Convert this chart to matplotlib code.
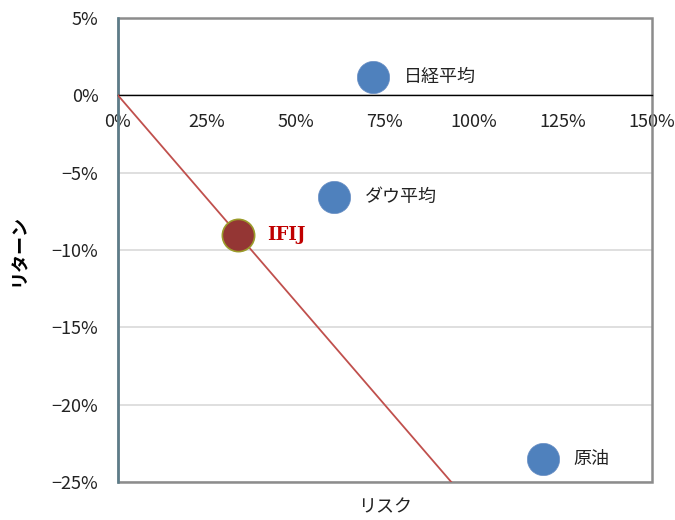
import numpy as np
import matplotlib.pyplot as plt
from matplotlib.patches import Rectangle
from matplotlib.ticker import FuncFormatter, MultipleLocator

plt.rcParams['font.family'] = ['Noto Sans CJK JP', 'DejaVu Sans']

# データ (リスク, リターン) in %
names = ['日経平均', 'ダウ平均', '原油']
risk = [71.6, 60.7, 119.4]
ret = [1.2, -6.6, -23.5]

ifij_name = 'IFIJ'
ifij_risk = 33.7
ifij_ret = -9.0

xticks = [0, 25, 50, 75, 100, 125, 150]
yticks = [5, 0, -5, -10, -15, -20, -25]

fig = plt.figure(figsize=(6.75, 5.2), dpi=100)
ax = fig.add_axes([0.1748, 0.0731, 0.7911, 0.8923])

ax.set_xlim(0, 150)
ax.set_ylim(-25, 5)
ax.set_xticks(xticks)
ax.set_yticks(yticks)
pct = FuncFormatter(lambda v, p: '{:d}%'.format(int(round(v))).replace('-', '\u2212'))
ax.xaxis.set_major_formatter(pct)
ax.yaxis.set_major_formatter(pct)

# grid
ax.grid(axis='y', color='#d9d9d9', lw=1.2, zorder=0)
ax.set_axisbelow(True)

# frame
for s in ['top', 'right']:
    ax.spines[s].set_visible(False)
ax.add_patch(Rectangle((0, 0), 1, 1, transform=ax.transAxes, fill=False,
                       edgecolor='#8c8c8c', lw=1.8, zorder=1, clip_on=False))
ax.spines['left'].set_color('#5c7d8a')
ax.spines['left'].set_linewidth(1.8)
ax.spines['left'].set_zorder(2)
ax.spines['bottom'].set_position(('data', 0))
ax.spines['bottom'].set_color('black')
ax.spines['bottom'].set_linewidth(1.0)

ax.tick_params(axis='both', length=0, labelsize=13, colors='#222222')
ax.tick_params(axis='x', pad=13)
ax.tick_params(axis='y', pad=14)

# 回帰線 (原点とIFIJを通る)
slope = ifij_ret / ifij_risk
xl = np.array([0, 150])
ax.plot(xl, slope * xl, color='#c0504d', lw=1.3, zorder=3)

# points
ax.scatter(risk, ret, s=540, color='#4f81bd', edgecolor='#6a8fc4', lw=0.5, zorder=4, clip_on=False)
ax.scatter([ifij_risk], [ifij_ret], s=540, color='#943634', edgecolor='#9b9b2a', lw=1.2, zorder=4)

for n, x, y in zip(names, risk, ret):
    ax.annotate(n, (x, y), xytext=(22, 0), textcoords='offset points',
                va='center', ha='left', fontsize=13, color='#222222')
ax.annotate(ifij_name, (ifij_risk, ifij_ret), xytext=(21, 0), textcoords='offset points',
            va='center', ha='left', fontsize=13, color='#c00000', fontweight='bold',
            family=['DejaVu Serif'])

ax.set_xlabel('リスク', fontsize=13, color='#222222')
ax.xaxis.set_label_coords(0.5, -0.035)
ax.set_ylabel('リターン', fontsize=13, fontweight='bold', color='black')
ax.yaxis.set_label_coords(-0.168, 0.5)

fig.savefig('out.png', dpi=100)
